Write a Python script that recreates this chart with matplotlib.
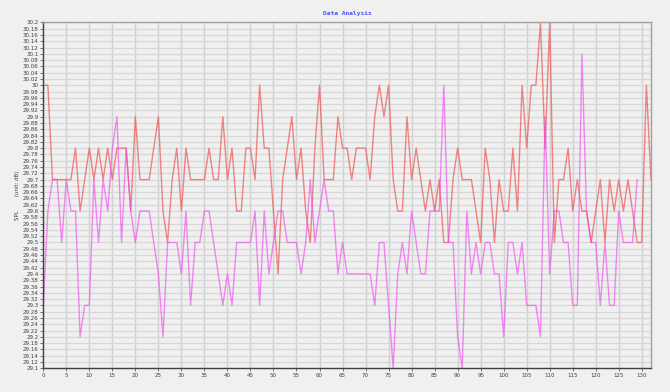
import matplotlib
matplotlib.use("Agg")
import matplotlib.pyplot as plt
from matplotlib.ticker import MultipleLocator, FuncFormatter

# 两组测量值 (SPL, dB)
spl_red = [30.0, 30.0, 29.7, 29.7, 29.7, 29.7, 29.7, 29.8, 29.6, 29.7,
           29.8, 29.7, 29.8, 29.7, 29.8, 29.7, 29.8, 29.8, 29.8, 29.6,
           29.9, 29.7, 29.7, 29.7, 29.8, 29.9, 29.6, 29.5, 29.7, 29.8,
           29.6, 29.8, 29.7, 29.7, 29.7, 29.7, 29.8, 29.7, 29.7, 29.9,
           29.7, 29.8, 29.6, 29.6, 29.8, 29.8, 29.7, 30.0, 29.8, 29.8,
           29.6, 29.4, 29.7, 29.8, 29.9, 29.7, 29.8, 29.6, 29.5, 29.8,
           30.0, 29.7, 29.7, 29.7, 29.9, 29.8, 29.8, 29.7, 29.8, 29.8,
           29.8, 29.7, 29.9, 30.0, 29.9, 30.0, 29.7, 29.6, 29.6, 29.9,
           29.7, 29.8, 29.7, 29.6, 29.7, 29.6, 29.7, 29.5, 29.5, 29.7,
           29.8, 29.7, 29.7, 29.7, 29.6, 29.5, 29.8, 29.7, 29.5, 29.7,
           29.6, 29.6, 29.8, 29.6, 30.0, 29.8, 30.0, 30.0, 30.2, 29.8,
           30.2, 29.5, 29.7, 29.7, 29.8, 29.6, 29.7, 29.6, 29.6, 29.5,
           29.6, 29.7, 29.5, 29.7, 29.6, 29.7, 29.6, 29.7, 29.6, 29.5,
           29.5, 30.0, 29.7]

spl_magenta = [29.3, 29.6, 29.7, 29.7, 29.5, 29.7, 29.6, 29.6, 29.2, 29.3,
               29.3, 29.7, 29.5, 29.7, 29.6, 29.8, 29.9, 29.5, 29.8, 29.6,
               29.5, 29.6, 29.6, 29.6, 29.5, 29.4, 29.2, 29.5, 29.5, 29.5,
               29.4, 29.6, 29.3, 29.5, 29.5, 29.6, 29.6, 29.5, 29.4, 29.3,
               29.4, 29.3, 29.5, 29.5, 29.5, 29.5, 29.6, 29.3, 29.6, 29.4,
               29.5, 29.6, 29.6, 29.5, 29.5, 29.5, 29.4, 29.5, 29.7, 29.5,
               29.6, 29.7, 29.6, 29.6, 29.4, 29.5, 29.4, 29.4, 29.4, 29.4,
               29.4, 29.4, 29.3, 29.5, 29.5, 29.3, 29.1, 29.4, 29.5, 29.4,
               29.6, 29.5, 29.4, 29.4, 29.6, 29.6, 29.6, 30.0, 29.5, 29.5,
               29.2, 29.1, 29.6, 29.4, 29.5, 29.4, 29.5, 29.5, 29.4, 29.4,
               29.2, 29.5, 29.5, 29.4, 29.5, 29.3, 29.3, 29.3, 29.2, 29.9,
               29.4, 29.6, 29.6, 29.5, 29.5, 29.3, 29.3, 30.1, 29.6, 29.5,
               29.5, 29.3, 29.5, 29.3, 29.3, 29.6, 29.5, 29.5, 29.5, 29.7]

x_red = list(range(len(spl_red)))
x_mag = list(range(len(spl_magenta)))

bg = '#f0f0f0'
fig = plt.figure(figsize=(6.7, 3.92), dpi=100, facecolor=bg)
ax = fig.add_axes([0.0646, 0.0605, 0.907, 0.8825], facecolor=bg)

ax.plot(x_red, spl_red, color='#f03c3c', alpha=0.6, lw=1.0)
ax.plot(x_mag, spl_magenta, color='#f040f0', alpha=0.6, lw=1.0)

ax.set_xlim(0, 132)
ax.set_ylim(29.1, 30.2)
ax.xaxis.set_major_locator(MultipleLocator(5))
ax.yaxis.set_major_locator(MultipleLocator(0.02))
ax.yaxis.set_major_formatter(FuncFormatter(
    lambda v, p: ('%.2f' % v).rstrip('0').rstrip('.')))

ax.grid(axis='y', color='#d8d8d8', lw=0.9)
ax.grid(axis='x', color='#d0d0d0', lw=1.0)
ax.set_axisbelow(True)

ax.tick_params(labelsize=4, length=2, width=0.5, pad=1.5, colors='#404040')
for s in ['left', 'bottom']:
    ax.spines[s].set_color('#404040')
    ax.spines[s].set_linewidth(1.0)
for s in ['top', 'right']:
    ax.spines[s].set_color('#a0a0a0')
    ax.spines[s].set_linewidth(1.0)

ax.set_title('Data Analysis', fontsize=4.5, color='#5050ff',
             family='DejaVu Sans Mono', fontweight='bold', pad=5)
ax.set_ylabel('SPL        (unit: dB)', fontsize=4, color='#404040', labelpad=2)

fig.savefig('out.png', dpi=100, facecolor=bg)
